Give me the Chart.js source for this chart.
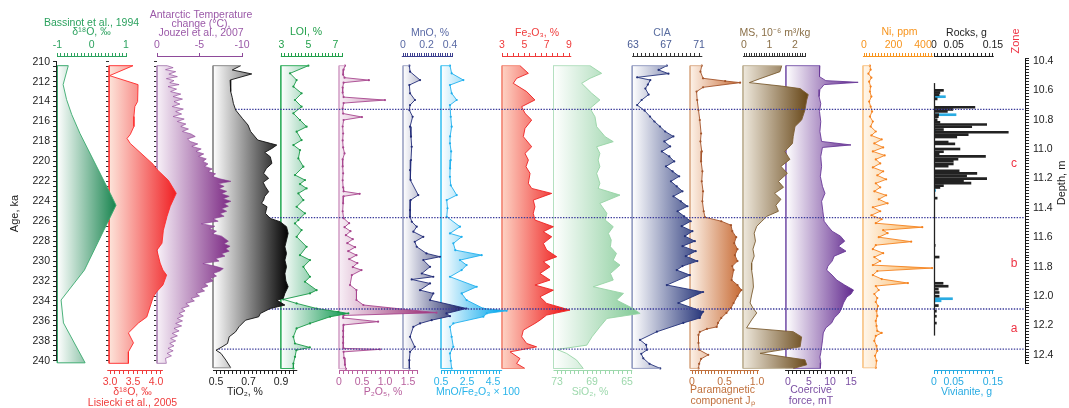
<!DOCTYPE html>
<html>
<head>
<meta charset="utf-8">
<script src="https://cdn.jsdelivr.net/npm/chart.js@4.4.1/dist/chart.umd.min.js"></script>
<style>
  html, body { margin: 0; padding: 0; background: #fff; }
  #wrap { position: relative; width: 1069px; height: 408px; overflow: hidden; background: #fff; }
  #wrap canvas { position: absolute; left: 0; top: 0; }
</style>
</head>
<body>
<div id="wrap"></div>
<script>
// ---------------- tick labels ----------------
const ageLabels = ['210','212','214','216','218','220','222','224','226','228','230','232','234','236','238','240'];
const depthLabels = ['10.4','10.6','10.8','11.0','11.2','11.4','11.6','11.8','12.0','12.2','12.4'];
const bassinotLabels = ['-1','0','1'];
const lisieckiLabels = ['3.0','3.5','4.0'];
const jouzelLabels = ['0','-5','-10'];
const tio2Labels = ['0.5','0.7','0.9'];
const loiLabels = ['3','5','7'];
const p2o5Labels = ['0','0.5','1.0','1.5'];
const mnoLabels = ['0','0.2','0.4'];
const mnoFeLabels = ['0.5','2.5','4.5'];
const fe2o3Labels = ['3','5','7','9'];
const sio2Labels = ['73','69','65'];
const ciaLabels = ['63','67','71'];
const paraLabels = ['0','0.5','1.0'];
const msLabels = ['0','1','2'];
const coerLabels = ['0','5','10','15'];
const niLabels = ['0','200','400'];
const rockLabels = ['0','0.05','0.15'];

// ---------------- zones (depth, m) ----------------
const zoneNames = ['c', 'b', 'a'];
const zoneTop = [10.729, 11.466, 12.087];
const zoneBottom = [11.466, 12.087, 12.36];
const zoneBounds = [10.729, 11.466, 12.087, 12.36];

// ---------------- reference records: [age ka, value] ----------------
const bassinot = [[210.4,-0.68],[212.3,-0.83],[213.8,-0.73],[215.3,-0.58],[217.2,-0.34],[223.2,0.54],[224.4,0.71],[230.9,-0.21],[233.9,-0.89],[236.2,-0.82],[240.2,-0.19]];

const lisiecki = [[210.4,3.50],[211.4,2.99],[212.3,3.61],[214.0,3.60],[214.5,3.54],[215.5,3.52],[216.5,3.52],[217.3,3.44],[217.7,3.37],[218.2,3.44],[220.3,3.94],[220.8,4.02],[221.9,4.27],[223.2,4.44],[224.5,4.31],[225.5,4.24],[226.9,4.16],[228.2,4.13],[228.9,4.02],[230.2,4.09],[230.9,4.15],[231.4,4.23],[232.4,4.15],[233.1,4.01],[233.6,3.94],[235.6,3.80],[236.2,3.62],[237.2,3.40],[238.2,3.51],[239.1,3.40],[240.25,3.40]];

const jouzel = [[210.4,-1.2],[210.6,-1.9],[210.8,-1.0],[211.0,-2.2],[211.25,-1.4],[211.5,-2.4],[211.7,-1.1],[211.9,-2.0],[212.1,-1.5],[212.3,-2.6],[212.5,-1.3],[212.75,-2.3],[213.0,-1.6],[213.25,-2.8],[213.5,-1.9],[213.75,-3.0],[214.0,-2.0],[214.25,-2.7],[214.5,-1.8],[214.75,-3.1],[215.0,-2.2],[215.25,-2.9],[215.5,-1.9],[215.75,-3.2],[216.0,-2.4],[216.25,-3.4],[216.5,-2.8],[216.75,-3.7],[217.0,-3.0],[217.25,-4.0],[217.5,-4.5],[217.75,-3.6],[218.0,-3.9],[218.25,-4.8],[218.5,-4.1],[218.75,-5.2],[219.0,-4.6],[219.25,-5.5],[219.5,-4.9],[219.75,-5.8],[220.0,-5.4],[220.25,-6.0],[220.5,-5.6],[220.75,-6.5],[221.0,-6.0],[221.25,-6.9],[221.5,-6.5],[221.75,-7.4],[222.0,-8.7],[222.25,-7.2],[222.5,-7.9],[222.75,-7.3],[223.0,-8.2],[223.25,-7.6],[223.5,-8.5],[223.75,-7.8],[224.0,-8.7],[224.25,-7.9],[224.5,-8.4],[224.75,-7.6],[225.0,-8.2],[225.25,-7.4],[225.5,-7.9],[225.75,-6.6],[226.0,-7.2],[226.25,-5.2],[226.5,-6.8],[226.75,-6.2],[227.0,-7.0],[227.25,-6.5],[227.5,-7.6],[227.75,-8.0],[228.0,-8.4],[228.25,-7.9],[228.5,-8.6],[228.75,-8.1],[229.0,-8.5],[229.25,-7.6],[229.5,-8.0],[229.75,-6.9],[230.0,-7.3],[230.25,-5.4],[230.5,-6.8],[230.75,-7.8],[231.0,-7.4],[231.25,-6.6],[231.5,-7.0],[231.75,-6.3],[232.0,-6.6],[232.25,-5.6],[232.5,-6.0],[232.75,-5.2],[233.0,-5.6],[233.25,-4.6],[233.5,-5.0],[233.75,-4.0],[234.0,-4.4],[234.25,-3.4],[234.5,-3.8],[234.75,-2.9],[235.0,-3.3],[235.25,-2.6],[235.5,-3.1],[235.75,-2.4],[236.0,-3.0],[236.25,-2.2],[236.5,-2.9],[236.75,-2.0],[237.0,-2.6],[237.25,-1.8],[237.5,-2.4],[237.75,-1.6],[238.0,-2.2],[238.25,-1.5],[238.5,-2.0],[238.75,-1.3],[239.0,-1.9],[239.25,-1.2],[239.5,-1.7],[239.75,-1.0],[240.25,-1.1]];

// ---------------- core records: [age ka, value] ----------------
const tio2 = [[210.4,0.652],[210.83,0.60],[211.23,0.72],[211.84,0.587],[212.5,0.59],[213.0,0.591],[213.6,0.60],[214.18,0.607],[214.85,0.621],[215.68,0.662],[216.35,0.697],[217.0,0.713],[217.86,0.757],[218.19,0.834],[218.36,0.874],[218.7,0.844],[219.1,0.80],[219.53,0.834],[220.2,0.844],[220.7,0.81],[221.2,0.793],[221.7,0.824],[222.1,0.79],[222.54,0.804],[223.04,0.824],[223.5,0.80],[223.88,0.793],[224.2,0.78],[224.55,0.814],[225.21,0.804],[225.72,0.834],[226.05,0.894],[226.55,0.934],[227.22,0.944],[227.89,0.934],[228.56,0.924],[229.23,0.934],[229.9,0.924],[230.57,0.934],[231.24,0.924],[232.0,0.93],[232.57,0.944],[233.24,0.924],[233.74,0.914],[233.91,0.874],[234.41,0.924],[234.75,0.834],[235.25,0.773],[235.58,0.763],[235.92,0.682],[236.59,0.641],[237.1,0.62],[237.59,0.581],[238.26,0.571],[238.66,0.531],[238.93,0.500],[239.26,0.531],[239.93,0.561],[240.7,0.591]];

const loi = [[210.4,4.99],[211.17,3.63],[211.84,4.12],[212.5,3.88],[213.17,4.49],[213.84,4.0],[214.51,4.49],[215.18,3.88],[215.85,4.37],[216.52,4.86],[217.02,4.12],[217.86,4.49],[218.36,3.88],[218.86,4.37],[219.7,4.25],[220.53,4.62],[221.37,4.0],[221.87,4.74],[222.27,4.37],[222.71,4.86],[223.21,4.25],[223.88,4.62],[224.55,4.12],[225.21,4.74],[225.88,4.25],[226.22,4.0],[226.89,4.49],[227.56,4.12],[228.56,4.86],[229.4,4.37],[229.9,5.11],[230.57,4.62],[231.57,5.11],[232.07,4.74],[232.91,5.6],[233.24,5.11],[233.84,3.13],[234.24,4.12],[234.75,5.6],[235.08,7.2],[235.25,7.95],[235.58,6.6],[236.25,5.11],[236.75,4.12],[237.59,3.88],[238.26,4.0],[238.66,5.1],[238.93,4.1],[239.6,4.0],[240.27,3.88],[240.77,3.88]];

const p2o5 = [[210.4,0.13],[210.8,0.10],[211.3,0.09],[211.6,0.12],[211.85,0.65],[212.1,0.10],[212.6,0.08],[213.1,0.08],[213.55,0.10],[213.85,1.0],[214.15,0.10],[214.7,0.08],[215.2,0.09],[215.55,0.50],[215.85,0.10],[216.5,0.08],[217.2,0.09],[217.9,0.08],[218.6,0.09],[219.2,0.12],[219.8,0.08],[220.5,0.08],[221.2,0.09],[221.9,0.08],[222.6,0.09],[223.0,0.10],[223.25,0.45],[223.5,0.10],[224.2,0.09],[225.0,0.08],[225.7,0.10],[226.2,0.22],[226.6,0.12],[227.0,0.25],[227.4,0.15],[227.8,0.30],[228.2,0.18],[228.6,0.35],[229.0,0.20],[229.4,0.38],[229.8,0.22],[230.2,0.40],[230.6,0.30],[230.9,0.49],[231.4,0.28],[232.4,0.24],[232.9,0.38],[233.9,0.38],[234.4,0.53],[235.17,2.12],[235.45,0.10],[235.7,0.09],[236.07,0.85],[236.4,0.10],[237.0,0.09],[237.6,0.09],[238.2,0.09],[238.75,0.10],[238.85,0.89],[239.1,0.10],[239.7,0.11],[240.4,0.13],[240.8,0.15]];

const mno = [[210.4,0.054],[211.0,0.06],[211.84,0.145],[212.34,0.054],[213.17,0.06],[213.84,0.102],[214.35,0.06],[214.85,0.054],[215.52,0.082],[216.52,0.06],[217.52,0.068],[218.53,0.074],[219.86,0.068],[220.87,0.06],[221.87,0.065],[223.38,0.13],[223.88,0.065],[224.88,0.06],[225.55,0.06],[226.05,0.075],[226.55,0.117],[227.05,0.088],[227.56,0.173],[228.06,0.1],[228.56,0.117],[229.23,0.2],[229.56,0.315],[229.9,0.173],[230.57,0.23],[231.24,0.16],[231.57,0.258],[231.84,0.074],[232.24,0.23],[232.91,0.145],[233.24,0.258],[233.91,0.23],[234.75,0.54],[235.25,0.37],[235.52,0.4],[235.92,0.244],[236.25,0.145],[236.59,0.088],[237.59,0.06],[238.6,0.1],[239.1,0.06],[239.93,0.054],[240.77,0.054]];

const mnoFe = [[210.4,1.19],[211.17,1.32],[211.84,2.22],[212.34,1.19],[213.17,1.32],[213.84,1.71],[214.35,1.19],[215.52,1.25],[216.52,1.32],[217.5,1.2],[218.19,1.19],[219.0,1.28],[219.86,1.25],[220.7,1.2],[221.54,1.19],[222.4,1.25],[223.38,1.71],[223.88,0.94],[224.7,1.0],[225.55,0.94],[226.55,1.96],[227.22,1.19],[227.56,2.09],[228.22,1.45],[228.9,1.6],[229.4,3.63],[229.9,1.96],[230.4,2.47],[230.9,2.09],[231.57,1.19],[232.57,3.25],[233.24,2.09],[233.91,2.47],[234.75,3.76],[234.98,5.55],[235.25,4.02],[235.58,3.76],[236.25,1.45],[236.59,1.19],[237.59,1.32],[238.6,1.45],[239.26,1.19],[240.0,1.25],[240.77,1.32]];

const fe2o3 = [[210.4,4.61],[211.17,5.36],[211.67,4.31],[212.17,4.01],[213.0,5.21],[213.84,5.95],[214.51,4.76],[215.18,5.06],[215.85,5.66],[216.69,5.06],[217.52,4.91],[218.53,5.66],[219.2,5.06],[219.86,5.36],[220.53,5.15],[221.2,5.51],[222.2,5.36],[222.71,5.66],[223.21,7.45],[223.88,5.8],[224.55,5.95],[225.21,5.8],[225.88,5.95],[226.55,7.6],[227.05,6.7],[227.56,7.45],[228.22,6.7],[228.89,7.0],[229.56,7.9],[230.06,6.7],[230.57,7.3],[231.24,6.4],[231.9,7.3],[232.4,5.95],[232.91,7.6],[233.58,6.4],[234.24,7.0],[234.91,9.09],[235.41,7.0],[235.92,6.4],[236.25,5.95],[236.92,4.91],[237.59,4.76],[238.26,5.21],[238.6,6.1],[239.1,3.72],[239.77,4.61],[240.27,4.31],[240.77,5.06]];

const sio2 = [[210.4,69.23],[211.17,67.9],[211.67,69.23],[212.17,70.18],[213.17,69.03],[213.84,68.1],[214.68,69.23],[215.52,68.66],[216.52,68.47],[217.52,67.5],[218.02,66.57],[218.53,68.47],[219.2,68.1],[219.86,68.3],[220.53,68.1],[221.2,68.47],[222.2,68.1],[222.71,68.3],[223.38,65.8],[224.21,68.1],[225.21,67.3],[225.88,67.5],[226.55,66.57],[227.22,67.13],[227.89,66.8],[228.56,66.9],[229.23,66.2],[229.9,66.57],[230.4,65.8],[231.24,66.9],[231.9,66.57],[232.57,68.85],[233.24,65.4],[233.91,66.2],[234.75,64.3],[235.25,63.5],[235.75,67.3],[236.59,68.1],[237.59,69.0],[238.43,69.6],[238.86,73.0],[239.26,71.9],[239.93,70.75],[240.77,70.0]];

const cia = [[210.4,67.1],[210.83,66.1],[211.2,67.3],[211.57,63.5],[211.84,65.1],[212.3,64.8],[212.7,64.5],[213.3,64.9],[213.84,64.05],[214.35,63.5],[214.9,64.4],[215.5,65.06],[216.0,65.6],[216.5,66.27],[217.0,66.9],[217.5,67.9],[218.0,66.8],[218.5,67.5],[219.0,66.5],[219.5,67.4],[220.0,68.0],[220.5,67.0],[221.0,67.8],[221.5,68.6],[222.0,67.6],[222.5,68.3],[223.0,69.0],[223.5,67.9],[224.0,68.8],[224.5,69.6],[225.0,68.4],[225.5,69.2],[226.0,70.0],[226.5,68.9],[227.0,70.2],[227.5,69.3],[228.0,70.5],[228.5,69.0],[229.0,70.6],[229.5,69.4],[230.0,70.8],[230.5,69.0],[230.9,68.3],[231.4,69.9],[232.4,67.1],[233.1,71.5],[234.2,68.5],[235.07,71.5],[235.7,71.1],[236.2,69.1],[237.08,65.9],[237.9,63.85],[238.4,64.6],[238.9,64.7],[239.3,64.0],[239.75,64.25],[240.3,65.0],[240.76,66.3]];

const para = [[210.4,0.15],[211.0,0.13],[211.67,0.17],[211.94,0.51],[212.1,0.74],[212.57,0.17],[213.0,0.07],[213.84,0.08],[214.85,0.10],[215.85,0.12],[217.2,0.14],[218.0,0.13],[219.0,0.15],[220.0,0.14],[221.0,0.16],[222.0,0.15],[223.0,0.17],[224.0,0.16],[225.0,0.18],[225.6,0.20],[226.0,0.45],[226.4,0.60],[227.0,0.62],[227.6,0.68],[228.2,0.65],[228.8,0.70],[229.4,0.66],[230.0,0.70],[230.5,0.62],[230.9,0.64],[231.9,0.61],[232.4,0.70],[232.9,0.76],[233.5,0.70],[234.2,0.64],[234.7,0.60],[235.2,0.53],[235.7,0.45],[236.2,0.40],[236.6,0.38],[236.8,0.23],[237.1,0.12],[237.4,0.10],[238.2,0.10],[238.9,0.11],[239.4,0.25],[239.8,0.14],[240.3,0.11],[240.76,0.10]];

const ms = [[210.4,1.48],[211.0,1.41],[211.7,0.63],[212.1,0.21],[212.45,1.48],[212.7,2.2],[213.3,2.52],[213.84,2.46],[214.85,2.39],[215.85,2.26],[216.5,2.0],[217.5,1.93],[218.2,1.9],[219.0,1.6],[219.8,1.8],[220.5,1.45],[221.2,1.7],[222.0,1.35],[222.6,1.55],[223.2,1.2],[223.8,1.45],[224.4,1.25],[225.0,1.35],[225.5,0.9],[226.0,0.7],[226.5,0.5],[227.2,0.4],[228.0,0.45],[228.8,0.35],[229.5,0.4],[230.2,0.3],[230.9,0.3],[231.8,0.35],[232.6,0.37],[233.4,0.3],[234.2,0.24],[234.7,0.35],[235.2,0.5],[235.9,0.3],[236.7,0.1],[237.08,1.93],[237.6,2.26],[238.6,2.2],[239.25,0.63],[239.9,2.39],[240.4,2.46],[240.76,1.93]];

const coer = [[210.4,7.6],[211.0,7.4],[211.5,7.6],[211.9,9.0],[212.07,16.7],[212.3,8.6],[212.8,7.6],[213.5,7.4],[214.2,7.8],[215.0,7.5],[216.0,7.8],[217.0,7.6],[218.0,8.0],[218.35,15.0],[218.6,8.2],[219.5,7.8],[220.5,8.0],[221.5,7.7],[222.5,8.2],[223.2,8.8],[224.0,8.0],[225.0,8.3],[226.0,8.6],[226.5,9.5],[227.0,10.5],[227.5,12.5],[228.0,13.5],[228.5,12.0],[229.0,13.8],[229.5,11.0],[230.0,10.5],[230.5,9.5],[230.9,9.2],[231.4,10.5],[231.9,11.6],[232.4,13.5],[232.9,15.6],[233.3,15.0],[233.6,14.0],[234.2,13.2],[234.7,12.8],[235.2,12.2],[235.7,11.0],[236.2,10.4],[236.7,9.0],[237.2,8.4],[238.0,8.2],[238.6,8.0],[239.2,7.8],[239.6,7.6],[240.2,7.8],[240.76,7.7]];

const ni = [[210.4,40],[210.8,45],[211.2,30],[211.6,50],[212.0,35],[212.5,45],[213.0,40],[213.5,50],[214.0,35],[214.5,45],[215.0,55],[215.5,40],[216.0,60],[216.5,45],[217.0,80],[217.4,50],[217.8,120],[218.2,70],[218.6,130],[219.0,60],[219.4,140],[219.8,80],[220.2,110],[220.6,60],[221.0,130],[221.4,90],[221.8,150],[222.2,80],[222.6,110],[223.0,70],[223.4,150],[223.8,100],[224.2,160],[224.6,60],[225.0,110],[225.4,50],[225.8,120],[226.2,80],[226.6,395],[226.9,130],[227.2,160],[227.6,100],[228.05,320],[228.4,80],[228.8,60],[229.2,130],[229.6,70],[230.0,110],[230.4,60],[230.7,462],[231.0,90],[231.4,60],[231.8,120],[232.2,298],[232.5,80],[232.9,100],[233.3,70],[233.7,90],[234.1,80],[234.5,95],[235.0,85],[235.5,90],[236.0,80],[236.5,85],[237.0,90],[237.2,120],[237.5,80],[238.0,70],[238.5,85],[239.0,90],[239.5,75],[240.0,85],[240.7,80]];

// ---------------- picked fractions: [depth m, grams] ----------------
const rocks = [[10.432,0.024],[10.45,0.015],[10.468,0.013],[10.502,0.008],[10.570,0.104],[10.588,0.048],[10.604,0.034],[10.631,0.012],[10.647,0.011],[10.672,0.008],[10.693,0.015],[10.711,0.134],[10.729,0.096],[10.752,0.024],[10.774,0.189],[10.793,0.087],[10.813,0.058],[10.854,0.036],[10.869,0.053],[10.911,0.066],[10.933,0.024],[10.951,0.013],[10.971,0.131],[10.994,0.061],[11.010,0.049],[11.033,0.049],[11.051,0.036],[11.089,0.064],[11.110,0.109],[11.130,0.083],[11.153,0.134],[11.171,0.075],[11.189,0.094],[11.210,0.024],[11.225,0.015],[11.312,0.008],[11.697,0.003],[11.793,0.013],[12.007,0.023],[12.031,0.036],[12.055,0.011],[12.082,0.013],[12.112,0.013],[12.189,0.011],[12.235,0.006],[12.276,0.006],[12.332,0.006]];
const vivianite = [[10.484,0.029],[10.631,0.056],[10.76,0.004],[11.25,0.004],[12.133,0.047],[12.150,0.018]];

// ---------------- layout ----------------
const W = 1069, H = 408;
const FONT = '"Liberation Sans", Arial, Helvetica, sans-serif';
const AGE_TOP = 209.53, AGE_BOTTOM = 240.92;      // age at plot-area top / bottom
const DEPTH_TOP = 10.3728, DEPTH_BOTTOM = 12.502;  // depth at plot-area top / bottom
const TOP_AXIS_H = 57, BOTTOM_AXIS_H = 38;

Chart.defaults.font.family = FONT;
Chart.defaults.font.size = 10.5;
Chart.defaults.color = '#222';

const wrap = document.getElementById('wrap');
function addCanvas(z) {
  const c = document.createElement('canvas');
  c.width = W; c.height = H; c.style.zIndex = z;
  wrap.appendChild(c);
  return c;
}

function tickList(from, to, step, labels) {
  const out = [];
  const n = Math.round((to - from) / step);
  for (let i = 0; i <= n; i++) out.push(+(from + i * step).toFixed(6));
  labels.forEach(s => { const v = parseFloat(s); if (!out.some(t => Math.abs(t - v) < 1e-6)) out.push(v); });
  return out.sort((a, b) => a - b);
}
function labelFor(labels) {
  return v => { const s = labels.find(l => Math.abs(parseFloat(l) - v) < 1e-6); return s === undefined ? '' : s; };
}

// partial axis lines (only over the labelled range of each axis)
const axisLines = {
  id: 'axisLines',
  afterDraw(chart, args, opts) {
    const ctx = chart.ctx;
    ctx.save();
    (opts.segs || []).forEach(s => {
      const sc = chart.scales[s.scale];
      ctx.strokeStyle = s.color; ctx.lineWidth = s.width || 1;
      ctx.beginPath();
      if (s.dir === 'h') {
        const y = sc.options.position === 'top' ? Math.round(sc.bottom) - 0.5 : Math.round(sc.top) + 0.5;
        ctx.moveTo(sc.getPixelForValue(s.from), y);
        ctx.lineTo(sc.getPixelForValue(s.to), y);
      } else {
        let x;
        if (s.at === 'left') x = Math.round(chart.chartArea.left) - 0.5;
        else if (s.at === 'right') x = Math.round(chart.chartArea.right) + 0.5;
        else x = Math.round(chart.scales[s.at.scale].getPixelForValue(s.at.value)) + 0.5;
        ctx.moveTo(x, sc.getPixelForValue(s.from));
        ctx.lineTo(x, sc.getPixelForValue(s.to));
      }
      ctx.stroke();
    });
    ctx.restore();
  }
};

const ageTicks = tickList(210, 240, 0.5, ageLabels);

// one profile panel per record; area = plot-area pixel span, centred on the axis title
const panels = [
  { data: bassinot, base: -1, map: [-1, 57.3, 34.35], area: [40, 143],
    axis: { pos: 'top', line: [-1, 1.02], ticks: [-1, 1], minor: 0.1, labels: bassinotLabels, color: '#2ca25f', labelColor: '#2ca25f' },
    title: { text: ['Bassinot et al., 1994', 'δ¹⁸O, ‰'], y: 23, lh: 0.88, color: '#2ca25f' },
    light: '#ffffff', dark: '#12814a', gradTo: 0.75, line: '#3aaa6e', edge: '#3aaa6e' },
  { data: lisiecki, base: 2.98, map: [3.0, 110, 46], area: [84, 181], comb: true,
    axis: { pos: 'bottom', line: [2.94, 4.15], ticks: [3.0, 4.1], minor: 0.1, labels: lisieckiLabels, color: '#ef3b3b', labelColor: '#ef3b3b' },
    title: { text: ['δ¹⁸O, ‰', 'Lisiecki et al., 2005'], y: 392, lh: 1.05, color: '#ef3b3b' },
    light: '#fde4da', dark: '#f01e22', gradTo: 4.45, line: '#ff2a2a', edge: '#ff3a3a' },
  { data: jouzel, base: 0, map: [0, 157, 8.5], reverse: true, area: [143, 259], comb: true,
    axis: { pos: 'top', line: [0, -10], ticks: [-10, 0], minor: 5, labels: jouzelLabels, color: '#8e4a9a', labelColor: '#9b59a8' },
    title: { text: ['Antarctic Temperature', 'change (°C),', 'Jouzel et al., 2007'], y: 15, lh: 0.85, color: '#9b59a8' },
    light: '#f8f1f8', dark: '#76217f', gradTo: -9, line: '#8a3d94', edge: '#b08ab8', lw: 0.6 },
  { data: tio2, base: 0.4815, map: [0.5, 216, 162.5], area: [191, 299],
    axis: { pos: 'bottom', line: [0.4815, 1.0], ticks: [0.5, 0.975], minor: 0.025, labels: tio2Labels, color: '#222', labelColor: '#222' },
    title: { text: ['TiO₂, %'], y: 392, lh: 1.1, color: '#222' },
    light: '#ffffff', dark: '#000000', gradTo: 0.95, line: '#111111', edge: '#8a8a8a', frame: true },
  { data: loi, base: 2.95, map: [3, 281.5, 13.5], area: [262, 350], marker: true,
    axis: { pos: 'top', line: [2.95, 7.5], ticks: [3, 7.5], minor: 0.25, labels: loiLabels, color: '#22a04b', labelColor: '#22a04b' },
    title: { text: ['LOI, %'], y: 32, lh: 1.1, color: '#22a04b' },
    light: '#ffffff', dark: '#07944a', gradTo: 8, line: '#1a9a48', edge: '#35b060' },
  { data: p2o5, base: 0, map: [0, 339, 46], area: [327, 439], marker: true,
    axis: { pos: 'bottom', line: [0, 1.7], ticks: [0, 1.7], minor: 0.1, labels: p2o5Labels, color: '#b8609e', labelColor: '#b8609e' },
    title: { text: ['P₂O₅, %'], y: 392, lh: 1.1, color: '#b8609e' },
    light: '#f8eff6', dark: '#93226a', gradTo: 2.1, line: '#a8468f', edge: '#d6a8cb' },
  { data: mno, base: 0, map: [0, 403, 117.5], area: [391, 469], marker: true,
    axis: { pos: 'top', line: [-0.01, 0.42], ticks: [0, 0.42], minor: 0.02, labels: mnoLabels, color: '#3c3f8f', labelColor: '#5a6aa5' },
    title: { text: ['MnO, %'], y: 33, lh: 1.1, color: '#5a6aa5' },
    light: '#ffffff', dark: '#1c2466', gradTo: 0.5, line: '#232c78', edge: '#a3a9c8' },
  { data: mnoFe, base: 0.5, map: [0.5, 441, 13], area: [431, 525], marker: true,
    axis: { pos: 'bottom', line: [0.5, 5.2], ticks: [0.5, 5.0], minor: 0.25, labels: mnoFeLabels, color: '#29b4ea', labelColor: '#29b4ea' },
    title: { text: ['MnO/Fe₂O₃ × 100'], y: 392, lh: 1.1, color: '#29b4ea' },
    light: '#ffffff', dark: '#00a6ec', gradTo: 5.2, line: '#20b0ee', edge: '#4cc6f2' },
  { data: fe2o3, base: 3, map: [3, 502, 11.17], area: [500, 574],
    axis: { pos: 'top', line: [3, 9.2], ticks: [3, 9], minor: 0.5, labels: fe2o3Labels, color: '#ef3b3b', labelColor: '#ef3b3b' },
    title: { text: ['Fe₂O₃, %'], y: 33, lh: 1.1, color: '#ef3b3b' },
    light: '#fdd3c4', dark: '#ee1d1d', gradTo: 8.5, line: '#ee2222', edge: '#f38a78' },
  { data: sio2, base: 73.4, map: [73, 557, 8.75], reverse: true, area: [538, 642],
    axis: { pos: 'bottom', line: [73.4, 64.4], ticks: [64.5, 73], minor: 0.5, labels: sio2Labels, color: '#9dd8ac', labelColor: '#9dd8ac' },
    title: { text: ['SiO₂, %'], y: 392, lh: 1.1, color: '#9dd8ac' },
    light: '#ffffff', dark: '#86cc99', gradTo: 64, line: '#96d4a5', edge: '#b4e0c0' },
  { data: cia, base: 62.9, map: [63, 633, 8.25], area: [618, 706], marker: true,
    axis: { pos: 'top', line: [62.9, 71.4], ticks: [63, 71], minor: 0.5, labels: ciaLabels, color: '#333', labelColor: '#4a5d96' },
    title: { text: ['CIA'], y: 33, lh: 1.1, color: '#5a6ea0' },
    light: '#ffffff', dark: '#27367a', gradTo: 71.5, line: '#25327a', edge: '#959dc2' },
  { data: para, base: -0.03, map: [0, 692, 65], area: [680, 765], marker: true,
    axis: { pos: 'bottom', line: [-0.03, 1.03], ticks: [0, 1.0], minor: 0.05, labels: paraLabels, color: '#c0703c', labelColor: '#c0703c' },
    title: { text: ['Paramagnetic', 'component Jₚ'], y: 390, lh: 1.1, color: '#c0703c' },
    light: '#fdf2e8', dark: '#c4642c', gradTo: 0.8, line: '#a4542a', edge: '#dcb08e' },
  { data: ms, base: -0.04, map: [0, 744, 25.5], area: [731, 819],
    axis: { pos: 'top', line: [-0.04, 2.4], ticks: [0, 2.4], minor: 0.1, labels: msLabels, color: '#333', labelColor: '#8b7048' },
    title: { text: ['MS, 10⁻⁶ m³/kg'], y: 33, lh: 1.1, color: '#8b7048' },
    light: '#efe9dd', dark: '#6a4a1c', gradTo: 2.45, line: '#7d5e32', edge: '#bfb195' },
  { data: coer, base: -0.5, map: [0, 788, 4.2], area: [762, 860],
    axis: { pos: 'bottom', line: [-0.7, 15.3], ticks: [0, 15], minor: 1, labels: coerLabels, color: '#222', labelColor: '#7b4fa3' },
    title: { text: ['Coercive', 'force, mT'], y: 390, lh: 1.1, color: '#7b4fa3' },
    light: '#ffffff', dark: '#5e248c', gradTo: 16, line: '#6a3a98', edge: '#8060b0' },
  { data: ni, base: -7, map: [0, 864, 0.1475], area: [861, 938], marker: true,
    axis: { pos: 'top', line: [-7, 470], ticks: [0, 460], minor: 20, labels: niLabels, color: '#f7941d', labelColor: '#f7941d' },
    title: { text: ['Ni, ppm'], y: 32, lh: 1.1, color: '#f7941d' },
    light: '#fff7ec', dark: '#f7a23a', gradTo: 470, line: '#f5821f', edge: '#f9c68a' }
];

function titlePadding(t, pos) {
  const lhPx = 10.5 * t.lh;
  if (pos === 'top') return { top: t.y - lhPx / 2, bottom: 0 };
  return { top: 0, bottom: H - t.y - lhPx / 2 - lhPx * (t.text.length - 1) };
}

function xAxisOptions(ax, title, min, max, reverse) {
  const top = ax.pos === 'top';
  const ticks = tickList(Math.min(ax.ticks[0], ax.ticks[1]), Math.max(ax.ticks[0], ax.ticks[1]), ax.minor, ax.labels);
  return {
    type: 'linear', min, max, reverse: !!reverse, position: ax.pos,
    afterFit: s => { s.height = top ? TOP_AXIS_H : BOTTOM_AXIS_H; },
    afterBuildTicks: s => { s.ticks = ticks.map(v => ({ value: v })); },
    ticks: { autoSkip: false, maxRotation: 0, minRotation: 0, padding: 2, color: ax.labelColor, font: { size: 10.5 }, callback: labelFor(ax.labels) },
    grid: { drawOnChartArea: false, drawTicks: true, tickLength: 4, color: ax.color, tickColor: ax.color, lineWidth: 1 },
    border: { display: false },
    title: { display: true, text: title.text, color: title.color, font: { size: 10.5, lineHeight: title.lh }, padding: titlePadding(title, ax.pos) }
  };
}

function gradientFill(p) {
  return ctx => {
    const ch = ctx.chart, xs = ch.scales.x;
    if (!ch.chartArea || !xs) return p.light;
    const x0 = xs.getPixelForValue(p.base), x1 = xs.getPixelForValue(p.gradTo);
    const g = ch.ctx.createLinearGradient(x0, 0, x1, 0);
    g.addColorStop(0, p.light); g.addColorStop(1, p.dark);
    return g;
  };
}

const baseOptions = { responsive: false, animation: false, devicePixelRatio: 1, events: [] };
const quietPlugins = { legend: { display: false }, tooltip: { enabled: false } };

function makePanel(p, z) {
  const cv = addCanvas(z);
  const toVal = x => p.reverse ? p.map[0] - (x - p.map[1]) / p.map[2] : p.map[0] + (x - p.map[1]) / p.map[2];
  const vL = toVal(p.area[0]), vR = toVal(p.area[1]);
  const top = p.axis.pos === 'top';
  const first = p.data[0], last = p.data[p.data.length - 1];
  const pts = p.data.map(d => ({ x: d[1], y: d[0] }));
  const edge = [{ x: first[1], y: first[0] }, { x: p.base, y: first[0] }, { x: p.base, y: last[0] }, { x: last[1], y: last[0] }];

  const yOpts = p.comb ? {
      type: 'linear', reverse: true, min: AGE_TOP, max: AGE_BOTTOM, position: { x: p.base },
      afterFit: s => { s.width = 0; },
      afterBuildTicks: s => { s.ticks = ageTicks.map(v => ({ value: v })); },
      ticks: { display: false },
      grid: { drawOnChartArea: false, drawTicks: true, tickLength: 3, color: '#333', tickColor: '#333' },
      border: { display: false }
    } : { type: 'linear', reverse: true, min: AGE_TOP, max: AGE_BOTTOM, display: false };

  return new Chart(cv, {
    type: 'line',
    data: {
      datasets: [
        { data: edge, borderColor: p.edge, borderWidth: 1, pointRadius: 0, fill: false, clip: false, tension: 0 },
        { data: pts, borderColor: p.line, borderWidth: p.lw || 0.9, pointRadius: p.marker ? 1.1 : 0,
          pointBackgroundColor: p.line, pointBorderWidth: 0, fill: { value: p.base },
          backgroundColor: gradientFill(p), clip: false, tension: 0 }
      ]
    },
    options: Object.assign({}, baseOptions, {
      indexAxis: 'y',
      layout: { autoPadding: false, padding: { left: p.area[0], right: W - p.area[1], top: top ? 0 : TOP_AXIS_H, bottom: top ? BOTTOM_AXIS_H : 0 } },
      scales: { x: xAxisOptions(p.axis, p.title, Math.min(vL, vR), Math.max(vL, vR), p.reverse), y: yOpts },
      plugins: Object.assign({}, quietPlugins, { axisLines: { segs: [{ dir: 'h', scale: 'x', from: p.axis.line[0], to: p.axis.line[1], color: p.axis.color }] } })
    }),
    plugins: [axisLines]
  });
}

// age scale on the far left
function makeAgeAxis(z) {
  const cv = addCanvas(z);
  return new Chart(cv, {
    type: 'line',
    data: { datasets: [] },
    options: Object.assign({}, baseOptions, {
      layout: { autoPadding: false, padding: { left: 0, right: W - 58, top: TOP_AXIS_H, bottom: BOTTOM_AXIS_H } },
      scales: {
        x: { type: 'linear', min: 0, max: 1, display: false },
        y: {
          type: 'linear', reverse: true, min: AGE_TOP, max: AGE_BOTTOM, position: 'left',
          afterFit: s => { s.width = 57; },
          afterBuildTicks: s => { s.ticks = ageTicks.map(v => ({ value: v })); },
          ticks: { autoSkip: false, padding: 3, color: '#222', font: { size: 10.5 }, callback: labelFor(ageLabels) },
          grid: { drawOnChartArea: false, drawTicks: true, tickLength: 4, color: '#222', tickColor: '#222' },
          border: { display: false },
          title: { display: true, text: 'Age, ka', color: '#222', font: { size: 11 }, padding: { top: 8, bottom: 0 } }
        }
      },
      plugins: Object.assign({}, quietPlugins, { axisLines: { segs: [{ dir: 'v', scale: 'y', at: 'left', from: 210, to: 240, color: '#222' }] } })
    }),
    plugins: [axisLines]
  });
}

// zone boundaries, zone letters and the depth scale
const zoneText = {
  id: 'zoneText',
  afterDraw(chart) {
    const ctx = chart.ctx, ys = chart.scales.y, a = chart.chartArea;
    ctx.save();
    ctx.fillStyle = '#ee3344';
    ctx.font = '12px ' + FONT;
    ctx.textAlign = 'center'; ctx.textBaseline = 'middle';
    zoneNames.forEach((z, i) => ctx.fillText(z, a.right - 11, ys.getPixelForValue((zoneTop[i] + zoneBottom[i]) / 2)));
    ctx.save();
    ctx.translate(a.right - 9, 41); ctx.rotate(-Math.PI / 2);
    ctx.font = '11px ' + FONT; ctx.fillText('Zone', 0, 0);
    ctx.restore();
    ctx.save();
    ctx.fillStyle = '#222';
    ctx.translate(1062, 183); ctx.rotate(-Math.PI / 2);
    ctx.font = '11px ' + FONT; ctx.fillText('Depth, m', 0, 0);
    ctx.restore();
    ctx.restore();
  }
};

function makeFrame(z) {
  const cv = addCanvas(z);
  const depthTicks = tickList(10.38, 12.46, 0.02, depthLabels);
  return new Chart(cv, {
    type: 'line',
    data: {
      datasets: zoneBounds.map(b => ({ data: [{ x: 0, y: b }, { x: 1, y: b }], borderColor: '#3a3a9a', borderWidth: 1.3, borderDash: [1.4, 1.4], pointRadius: 0, fill: false, clip: false }))
    },
    options: Object.assign({}, baseOptions, {
      layout: { autoPadding: false, padding: { left: 213, right: 0, top: TOP_AXIS_H, bottom: BOTTOM_AXIS_H } },
      scales: {
        x: { type: 'linear', min: 0, max: 1, display: false },
        y: {
          type: 'linear', reverse: true, min: DEPTH_TOP, max: DEPTH_BOTTOM, position: 'right',
          afterFit: s => { s.width = 44; },
          afterBuildTicks: s => { s.ticks = depthTicks.map(v => ({ value: v })); },
          ticks: { autoSkip: false, padding: 4, color: '#222', font: { size: 10.5 }, callback: labelFor(depthLabels) },
          grid: { drawOnChartArea: false, drawTicks: true, tickLength: 4, color: '#222', tickColor: '#222' },
          border: { display: false }
        }
      },
      plugins: Object.assign({}, quietPlugins, { axisLines: { segs: [{ dir: 'v', scale: 'y', at: 'right', from: 10.386, to: 12.461, color: '#111' }] } })
    }),
    plugins: [axisLines, zoneText]
  });
}

function makeRocks(z) {
  const cv = addCanvas(z);
  const map = [0, 934, 393];
  const toVal = x => map[0] + (x - map[1]) / map[2];
  const min = toVal(923), max = toVal(1010);
  const rockAxis = { pos: 'top', line: [0, 0.152], ticks: [0, 0.15], minor: 0.01, labels: rockLabels, color: '#222', labelColor: '#222' };
  const vivAxis = { pos: 'bottom', line: [0, 0.152], ticks: [0, 0.15], minor: 0.01, labels: rockLabels, color: '#29abe2', labelColor: '#29abe2' };
  return new Chart(cv, {
    type: 'bar',
    data: {
      datasets: [
        { data: rocks.map(d => ({ x: d[1], y: d[0] })), backgroundColor: '#222', barThickness: 2, grouped: false, clip: false, xAxisID: 'x', yAxisID: 'y' },
        { data: vivianite.map(d => ({ x: d[1], y: d[0] })), backgroundColor: '#29abe2', barThickness: 2, grouped: false, clip: false, xAxisID: 'x2', yAxisID: 'y' }
      ]
    },
    options: Object.assign({}, baseOptions, {
      indexAxis: 'y',
      layout: { autoPadding: false, padding: { left: 923, right: W - 1010, top: 0, bottom: 0 } },
      scales: {
        x: xAxisOptions(rockAxis, { text: ['Rocks, g'], y: 33, lh: 1.1, color: '#222' }, min, max, false),
        x2: xAxisOptions(vivAxis, { text: ['Vivianite, g'], y: 392, lh: 1.1, color: '#29abe2' }, min, max, false),
        y: { type: 'linear', reverse: true, min: DEPTH_TOP, max: DEPTH_BOTTOM, display: false }
      },
      plugins: Object.assign({}, quietPlugins, { axisLines: { segs: [
        { dir: 'h', scale: 'x', from: 0, to: 0.152, color: '#222' },
        { dir: 'h', scale: 'x2', from: 0, to: 0.152, color: '#29abe2' },
        { dir: 'v', scale: 'y', at: { scale: 'x', value: 0 }, from: DEPTH_TOP, to: 12.434, color: '#222', width: 1.3 }
      ] } })
    }),
    plugins: [axisLines]
  });
}

// stacking: panels to the left sit above their right-hand neighbours;
// the zone boundaries run above every core panel except TiO2
let z = 100;
makeAgeAxis(z--);
panels.forEach(p => {
  makePanel(p, z--);
  if (p.frame) makeFrame(z--);
});
makeRocks(z--);
</script>
</body>
</html>
